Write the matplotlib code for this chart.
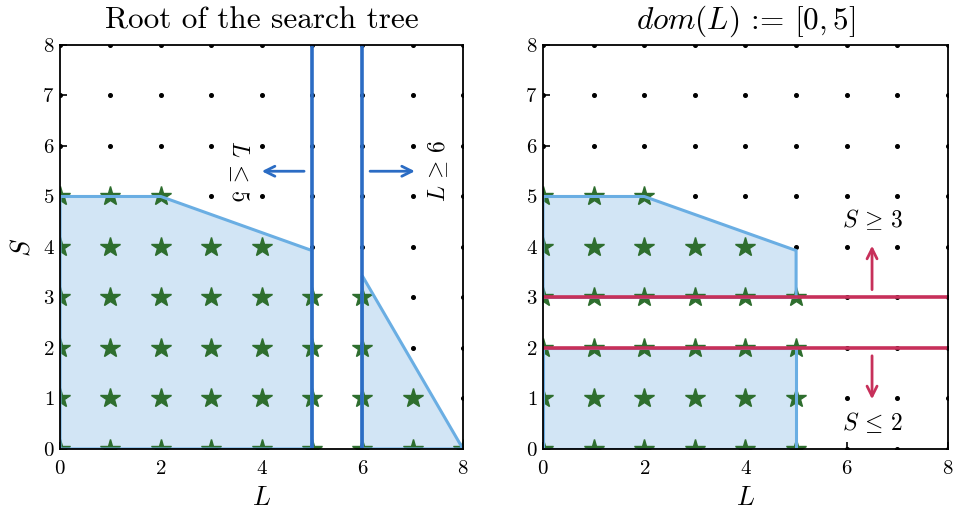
import matplotlib
matplotlib.use('Agg')
import matplotlib.pyplot as plt
import numpy as np

plt.rcParams['font.family'] = 'serif'
plt.rcParams['font.serif'] = ['cmr10', 'DejaVu Serif']
plt.rcParams['mathtext.fontset'] = 'cm'
plt.rcParams['axes.formatter.use_mathtext'] = True

# feasible region pieces (L, S)
left_piece_a = [(0, 0), (0, 5), (2, 5), (5, 3.93), (5, 0)]
left_piece_b = [(6, 0), (6, 3.43), (8, 0)]
right_piece_low = [(0, 0), (0, 2), (5, 2), (5, 0)]
right_piece_high = [(0, 3), (0, 5), (2, 5), (5, 3.93), (5, 3)]

# integer feasible points per row S -> largest feasible L
left_rows = {5: 2, 4: 4, 3: 6, 2: 6, 1: 7, 0: 8}
right_rows = {5: 2, 4: 4, 3: 5, 2: 5, 1: 5, 0: 5}

branch_L = [5, 6]
branch_S = [3, 2]

fill_color = '#d2e5f5'
edge_color = '#6aaee3'
branch_blue = '#2b6cc4'
branch_red = '#c7305a'
star_color = '#2e6e2e'


def draw_base(ax, pieces, rows):
    for piece in pieces:
        # fill under the markers, outline above them
        ax.add_patch(plt.Polygon(piece, closed=True, facecolor=fill_color,
                                 edgecolor='none', zorder=1))
        ax.add_patch(plt.Polygon(piece, closed=True, facecolor='none',
                                 edgecolor=edge_color, lw=2.2, zorder=4))

    gx, gy = np.meshgrid(np.arange(0, 9), np.arange(0, 9))
    ax.plot(gx.flatten(), gy.flatten(), 'o', color='black', ms=2.6, zorder=2)

    sx, sy = [], []
    for s, lmax in rows.items():
        for l in range(lmax + 1):
            sx.append(l)
            sy.append(s)
    ax.plot(sx, sy, '*', color=star_color, ms=15, mec=star_color, zorder=3)

    ax.set_xlim(0, 8)
    ax.set_ylim(0, 8)
    ax.set_xticks([0, 2, 4, 6, 8])
    ax.set_yticks(range(0, 9))
    ax.tick_params(direction='in', length=5, width=1.2, labelsize=15)
    ax.tick_params(axis='x', pad=8)
    ax.tick_params(axis='y', pad=4)
    for sp in ax.spines.values():
        sp.set_linewidth(1.3)
        sp.set_zorder(6)
    ax.set_xlabel('$L$', fontsize=19, labelpad=6)


fig = plt.figure(figsize=(9.59, 5.13), dpi=100)
ax1 = fig.add_axes([0.0626, 0.1248, 0.4202, 0.7875])
ax2 = fig.add_axes([0.5662, 0.1248, 0.4223, 0.7875])

arrow_kw = dict(arrowstyle='->', lw=2, mutation_scale=18)

# left: branching on L
draw_base(ax1, [left_piece_a, left_piece_b], left_rows)
for l in branch_L:
    ax1.axvline(l, color=branch_blue, lw=2.6, zorder=5)
ax1.annotate('', xy=(3.95, 5.5), xytext=(4.9, 5.5),
             arrowprops=dict(color=branch_blue, **arrow_kw))
ax1.annotate('', xy=(7.1, 5.5), xytext=(6.1, 5.5),
             arrowprops=dict(color=branch_blue, **arrow_kw))
ax1.text(3.55, 5.5, r'$L \,\leq\, 5$', rotation=-90, ha='center', va='center', fontsize=17)
ax1.text(7.5, 5.5, r'$L \,\geq\, 6$', rotation=90, ha='center', va='center', fontsize=17)
ax1.set_ylabel('$S$', fontsize=19, labelpad=6)
ax1.set_title('Root of the search tree', fontsize=22.5, pad=12)

# right: branching on S
draw_base(ax2, [right_piece_low, right_piece_high], right_rows)
for s in branch_S:
    ax2.axhline(s, color=branch_red, lw=2.6, zorder=5)
ax2.annotate('', xy=(6.5, 4.08), xytext=(6.5, 3.1),
             arrowprops=dict(color=branch_red, **arrow_kw))
ax2.annotate('', xy=(6.5, 0.93), xytext=(6.5, 1.9),
             arrowprops=dict(color=branch_red, **arrow_kw))
ax2.text(6.5, 4.53, r'$S \,\geq\, 3$', ha='center', va='center', fontsize=17)
ax2.text(6.5, 0.52, r'$S \,\leq\, 2$', ha='center', va='center', fontsize=17)
ax2.set_title(r'$dom(L)$ := $[0, 5]$', fontsize=22.5, pad=12)

fig.savefig('out.png', dpi=100)
